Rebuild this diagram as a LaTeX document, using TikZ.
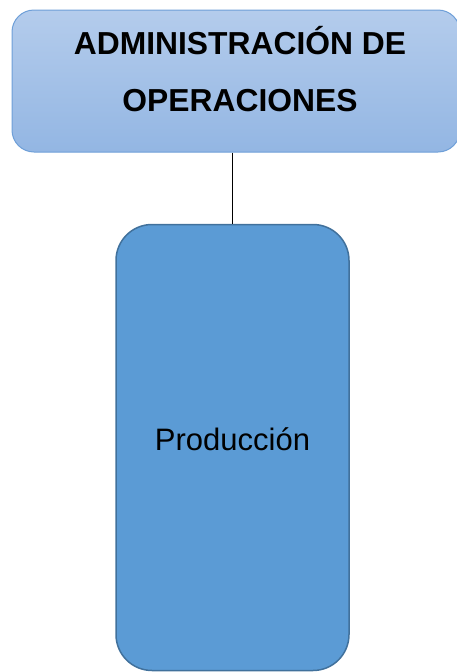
\documentclass[tikz,border=0pt]{standalone}
\usepackage{fontspec}
\setmainfont{Liberation Sans}
\definecolor{topA}{HTML}{B4CCEC}
\definecolor{topB}{HTML}{93B6E3}
\definecolor{topLine}{HTML}{6E9FD8}
\definecolor{boxFill}{HTML}{5B9BD5}
\definecolor{boxLine}{HTML}{41719C}
\tikzset{
  headbox/.style={draw=topLine, line width=1pt, rounded corners=22pt, top color=topA, bottom color=topB, minimum width=448pt, minimum height=142pt, inner sep=0pt},
  unitbox/.style={draw=boxLine, line width=1.5pt, rounded corners=36pt, fill=boxFill, minimum width=233pt, minimum height=446pt, inner sep=0pt},
  headtext/.style={font=\fontsize{31.8}{57}\selectfont\bfseries, align=center, inner sep=0pt},
  unittext/.style={font=\fontsize{31}{37}\selectfont, inner sep=0pt},
  link/.style={draw=black, line width=1pt}
}
\begin{document}
\begin{tikzpicture}[x=1pt,y=-1pt]
\useasboundingbox (0,0) rectangle (457,672);
\begin{scope}
\clip (0,0) rectangle (457,672);
\node[headbox] (head) at (236,81) {};
\node[unitbox] (unit) at (232.5,447.5) {};
\draw[link] (head.south -| unit.north) -- (unit.north);
\node[headtext, anchor=base] (headlabel) at (240,111) {ADMINISTRACIÓN DE\\OPERACIONES};
\node[unittext, anchor=base] (unitlabel) at (232.5,450) {Producción};
\end{scope}
\end{tikzpicture}
\end{document}
